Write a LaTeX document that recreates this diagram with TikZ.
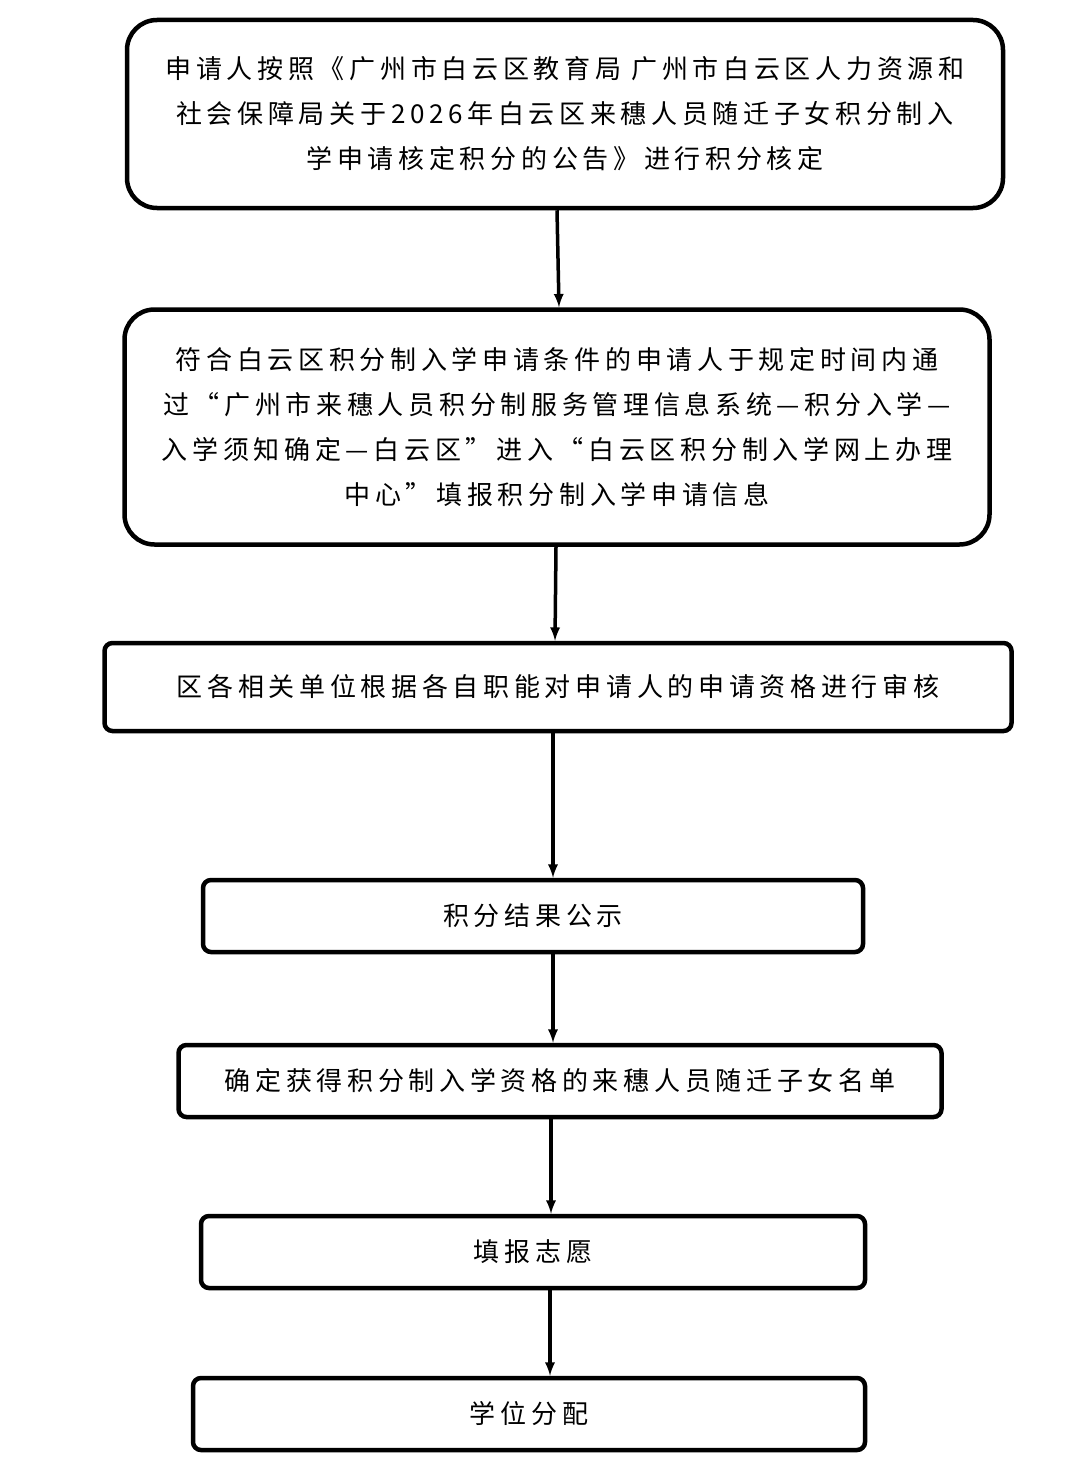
\documentclass[tikz,border=0pt]{standalone}
\usepackage{fontspec}
\newfontfamily\cjk[LetterSpace=18]{Noto Sans CJK SC}
\usetikzlibrary{positioning}
\tikzset{box/.style={draw=black, line width=4.5pt, rounded corners=#1, font=\cjk\fontsize{26}{45}\selectfont, align=center, inner sep=0pt},
box/.default={8pt},
arr/.style={-latex, line width=3.5pt}}

\begin{document}
\begin{tikzpicture}[x=1pt,y=-1pt]
		\useasboundingbox (0,0) rectangle (1080,1482);

		\node[box=30pt, minimum width=876pt, minimum height=188pt] (apply) at (565,114)
		{申请人按照《广州市白云区教育局 广州市白云区人力资源和\\社会保障局关于2026年白云区来穗人员随迁子女积分制入\\学申请核定积分的公告》进行积分核定};
		\node[box=30pt, minimum width=865pt, minimum height=235pt] (report) at (557,427)
		{符合白云区积分制入学申请条件的申请人于规定时间内通\\过“广州市来穗人员积分制服务管理信息系统—积分入学—\\入学须知确定—白云区”进入“白云区积分制入学网上办理\\中心”填报积分制入学申请信息};
		\node[box, minimum width=907pt, minimum height=88pt] (review) at (558,687)
		{区各相关单位根据各自职能对申请人的申请资格进行审核};
		\node[box, minimum width=660pt, minimum height=72pt] (publish) at (533,916) {积分结果公示};
		\node[box, minimum width=763pt, minimum height=72pt] (list) at (560,1081)
		{确定获得积分制入学资格的来穗人员随迁子女名单};
		\node[box, minimum width=664pt, minimum height=72pt] (wish) at (533,1252) {填报志愿};
		\node[box, minimum width=672pt, minimum height=72pt] (assign) at (529,1414) {学位分配};

		\draw[arr] ([xshift=-8pt]apply.south) -- ([xshift=2pt]report.north);
		\draw[arr] ([xshift=-1pt]report.south) -- ([xshift=-3pt]review.north);
		\draw[arr] ([xshift=-5pt]review.south) -- ([xshift=20pt]publish.north);
		\draw[arr] ([xshift=20pt]publish.south) -- ([xshift=-7pt]list.north);
		\draw[arr] ([xshift=-9pt]list.south) -- ([xshift=18pt]wish.north);
		\draw[arr] ([xshift=17pt]wish.south) -- ([xshift=21pt]assign.north);

	\end{tikzpicture}
\end{document}
